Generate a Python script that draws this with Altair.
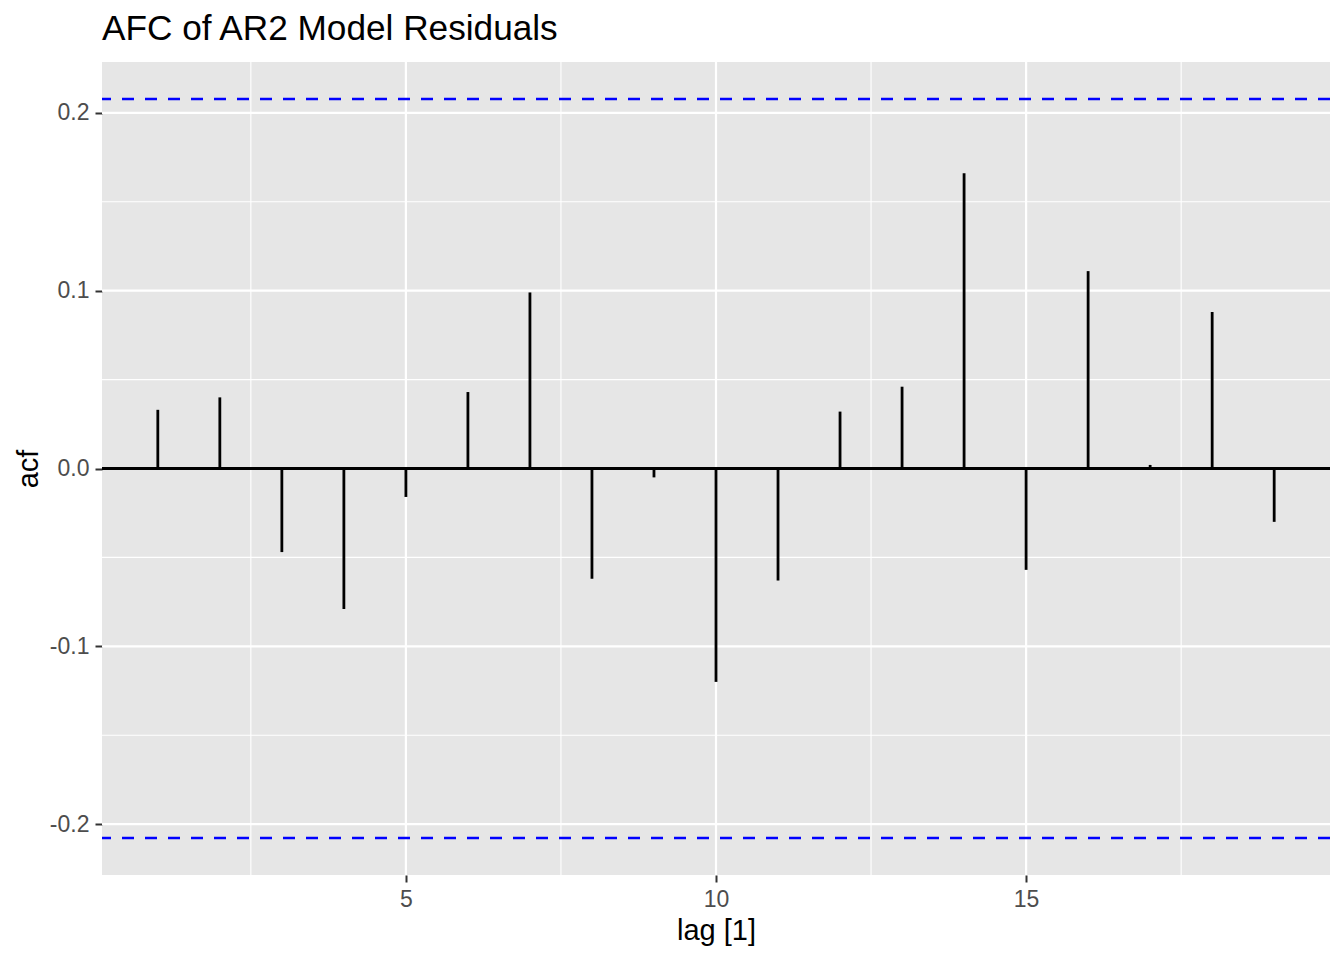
import altair as alt
import pandas as pd

# ---- data ----
lags = list(range(1, 20))
acf = [0.033, 0.040, -0.047, -0.079, -0.016, 0.043, 0.099, -0.062, -0.005,
       -0.120, -0.063, 0.032, 0.046, 0.166, -0.057, 0.111, 0.002, 0.088, -0.030]
ci_bounds = [0.2078, -0.2078]
x_major = [5, 10, 15]
x_minor = [2.5, 7.5, 12.5, 17.5]
y_major = [-0.2, -0.1, 0.0, 0.1, 0.2]
y_minor = [-0.15, -0.05, 0.05, 0.15]
zero_line = [0.0]

FONT = "Liberation Sans"
xs = alt.Scale(domain=[0.1, 19.9], nice=False, zero=False)
ys = alt.Scale(domain=[-0.2286, 0.2286], nice=False, zero=False)

XAX = alt.Axis(
    title="lag [1]", values=x_major, format="d", grid=False, domain=False,
    tickColor="#333333", tickWidth=2, tickSize=7,
    labelFont=FONT, labelFontSize=23, labelColor="#4D4D4D",
    labelBaseline="alphabetic", labelPadding=24,
    titleFont=FONT, titleFontSize=29, titleFontWeight="normal", titleColor="black",
    titleBaseline="alphabetic", titleY=64, titleX=614, titleAlign="center")
YAX = alt.Axis(
    title="acf", values=y_major, grid=False, domain=False,
    labelExpr="datum.value < -0.001 ? '-' + format(-datum.value, '.1f') : format(abs(datum.value), '.1f')",
    tickColor="#333333", tickWidth=2, tickSize=7,
    labelFont=FONT, labelFontSize=23, labelColor="#4D4D4D", labelPadding=6,
    titleFont=FONT, titleFontSize=29, titleFontWeight="normal", titleColor="black",
    titleAngle=-90, titleBaseline="alphabetic", titleAlign="center",
    titleX=-65, titleY=406.5)

df = pd.DataFrame({"lag": lags, "acf": acf})

xminor = alt.Chart(pd.DataFrame({"lag": x_minor})).mark_rule(color="white", strokeWidth=1.1).encode(
    x=alt.X("lag:Q", scale=xs, axis=XAX))
yminor = alt.Chart(pd.DataFrame({"acf": y_minor})).mark_rule(color="white", strokeWidth=1.1).encode(
    y=alt.Y("acf:Q", scale=ys, axis=YAX))
xmajor = alt.Chart(pd.DataFrame({"lag": x_major})).mark_rule(color="white", strokeWidth=2.2).encode(
    x=alt.X("lag:Q", scale=xs, axis=XAX))
ymajor = alt.Chart(pd.DataFrame({"acf": y_major})).mark_rule(color="white", strokeWidth=2.2).encode(
    y=alt.Y("acf:Q", scale=ys, axis=YAX))

zero = alt.Chart(pd.DataFrame({"acf": zero_line})).mark_rule(color="black", strokeWidth=2.8).encode(
    y=alt.Y("acf:Q", scale=ys, axis=YAX))

ci = alt.Chart(pd.DataFrame({"acf": ci_bounds})).mark_rule(
    color="#0000FF", strokeWidth=2.6, strokeDash=[12, 11]).encode(
    y=alt.Y("acf:Q", scale=ys, axis=YAX))

bars = alt.Chart(df).mark_rule(color="black", strokeWidth=2.8).encode(
    x=alt.X("lag:Q", scale=xs, axis=XAX),
    y=alt.Y("acf:Q", scale=ys, axis=YAX),
    y2=alt.datum(0),
)

chart = alt.layer(xminor, yminor, xmajor, ymajor, ci, zero, bars).properties(
    width=1228, height=813,
    padding={"left": 94, "top": 54, "right": 6, "bottom": 77},
    autosize=alt.AutoSizeParams(type="none"),
    background="white",
    title=alt.Title("AFC of AR2 Model Residuals", anchor="start", frame="group",
                    font=FONT, fontSize=35.2, fontWeight="normal", color="black",
                    offset=14),
).configure_view(fill="#E6E6E6", strokeWidth=0)

chart.save("out.html", embed_options={"renderer": "svg", "actions": False})
